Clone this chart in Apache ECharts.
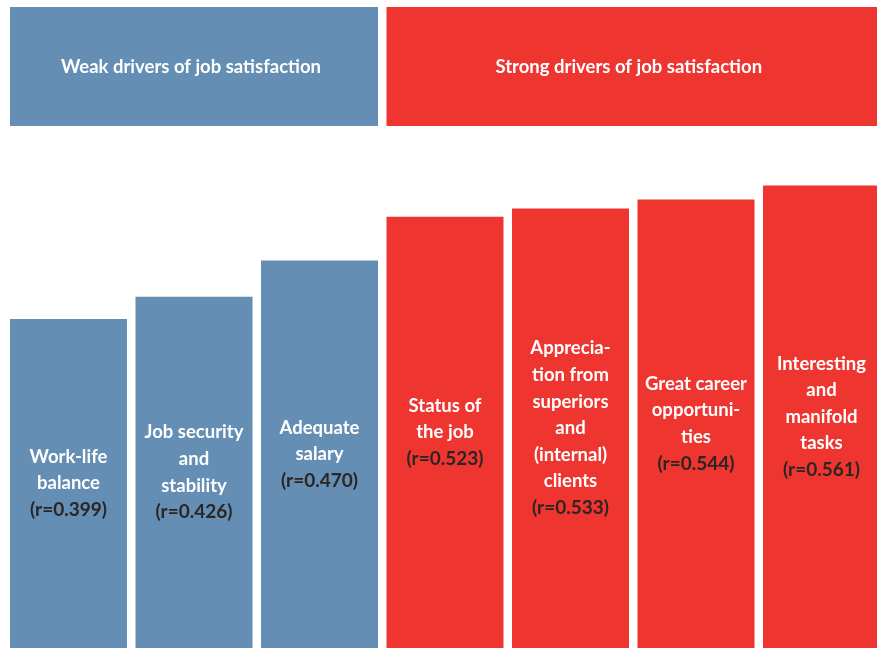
<!DOCTYPE html>
<html>
<head>
<meta charset="utf-8">
<style>
  html, body { margin: 0; padding: 0; background: #ffffff; overflow: hidden; }
  #wrap { width: 877px; height: 648px; overflow: hidden; }
  /* the last bar runs past the right edge, so the canvas is a little wider than the view */
  #chart { width: 886px; height: 648px; }
</style>
<script src="https://cdn.jsdelivr.net/npm/echarts@6/dist/echarts.min.js"></script>
</head>
<body>
<div id="wrap"><div id="chart"></div></div>
<script>
// Job satisfaction drivers and their correlation coefficients
const categories = [
  'Work-life\nbalance',
  'Job security\nand\nstability',
  'Adequate\nsalary',
  'Status of\nthe job',
  'Apprecia-\ntion from\nsuperiors\nand\n(internal)\nclients',
  'Great career\nopportuni-\nties',
  'Interesting\nand\nmanifold\ntasks'
];
const correlations = [0.399, 0.426, 0.470, 0.523, 0.533, 0.544, 0.561];
const driverGroup = ['weak', 'weak', 'weak', 'strong', 'strong', 'strong', 'strong'];

const groupTitles = ['Weak drivers of job satisfaction', 'Strong drivers of job satisfaction'];
const groupKeys = ['weak', 'strong'];

const groupColors = { weak: '#648eb4', strong: '#ee3530' };
const FONT = 'Lato, "Open Sans", sans-serif';
const BAR_W = 117;
const VIEW_W = 877;

const chart = echarts.init(document.getElementById('chart'), null, { renderer: 'canvas' });

chart.setOption({
  animation: false,
  backgroundColor: '#ffffff',
  grid: { left: 5.75, width: 878.5, top: 0, bottom: 0, containLabel: false },
  xAxis: {
    type: 'category',
    data: categories,
    axisLine: { show: false },
    axisTick: { show: false },
    axisLabel: { show: false }
  },
  yAxis: {
    type: 'value',
    min: 0,
    max: 0.786,
    show: false,
    splitLine: { show: false }
  },
  series: [{
    type: 'bar',
    barWidth: BAR_W,
    data: correlations.map((v, i) => ({
      value: v,
      itemStyle: { color: groupColors[driverGroup[i]] }
    })),
    label: {
      show: true,
      position: 'inside',
      align: 'center',
      verticalAlign: 'middle',
      formatter: (p) => {
        const lines = categories[p.dataIndex].split('\n').map(s => '{n|' + s + '}');
        lines.push('{v|(r=' + p.value.toFixed(3) + ')}');
        return lines.join('\n');
      },
      rich: {
        n: { color: '#ffffff', fontFamily: FONT, fontWeight: 'bold', fontSize: 18.5, lineHeight: 26.6, align: 'center' },
        v: { color: '#2b2523', fontFamily: FONT, fontWeight: 'bold', fontSize: 19, lineHeight: 26.6, align: 'center' }
      }
    }
  }]
});

// Group header boxes spanning the bars of each group
function drawHeaders() {
  const elements = [];
  groupKeys.forEach((key, g) => {
    const idx = driverGroup.map((d, i) => (d === key ? i : -1)).filter(i => i >= 0);
    const x0 = chart.convertToPixel({ xAxisIndex: 0 }, idx[0]) - BAR_W / 2;
    const x1 = Math.min(VIEW_W, chart.convertToPixel({ xAxisIndex: 0 }, idx[idx.length - 1]) + BAR_W / 2);
    elements.push({
      type: 'rect',
      shape: { x: x0, y: 7, width: x1 - x0, height: 119 },
      style: { fill: groupColors[key] },
      silent: true
    });
    elements.push({
      type: 'text',
      x: (x0 + x1) / 2 - 3,
      y: 67,
      style: {
        text: groupTitles[g],
        fill: '#ffffff',
        font: 'bold 18.5px ' + FONT,
        align: 'center',
        verticalAlign: 'middle'
      },
      silent: true
    });
  });
  chart.setOption({ graphic: { elements } });
}
drawHeaders();
</script>
</body>
</html>
